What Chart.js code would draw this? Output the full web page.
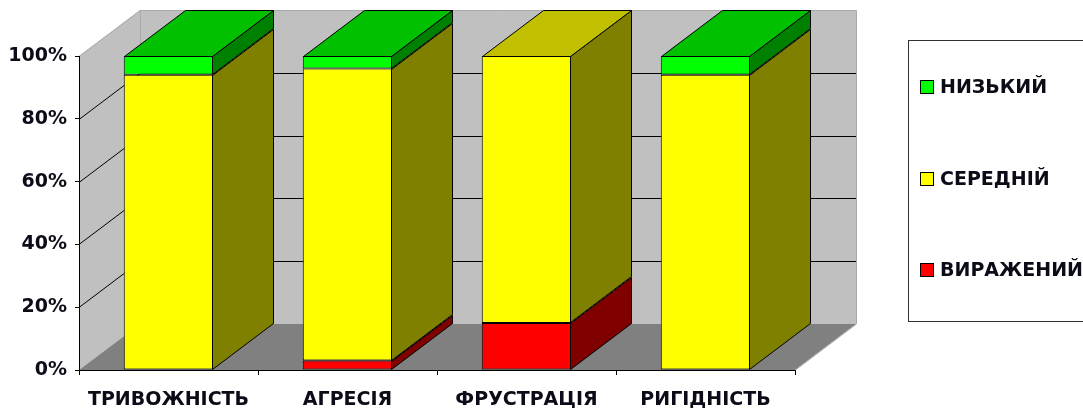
<!DOCTYPE html>
<html>
<head>
<meta charset="utf-8">
<script src="https://cdn.jsdelivr.net/npm/chart.js@4/dist/chart.umd.min.js"></script>
<style>
  html, body { margin: 0; padding: 0; background: #ffffff; overflow: hidden; }
  canvas { display: block; }
</style>
</head>
<body>
<canvas id="chart" width="1083" height="412"></canvas>
<script>
// Categories and levels (percent of respondents, stacked to 100%)
const categories = ['ТРИВОЖНІСТЬ', 'АГРЕСІЯ', 'ФРУСТРАЦІЯ', 'РИГІДНІСТЬ'];
const seriesNames = ['ВИРАЖЕНИЙ', 'СЕРЕДНІЙ', 'НИЗЬКИЙ'];
const vyrazhenyi = [0, 3, 15, 0];
const serednii = [94, 93, 85, 94];
const nyzkyi = [6, 4, 0, 6];
const yTickValues = [0, 20, 40, 60, 80, 100];

// Face colours: front, side (shaded) and top of each series
const frontColors = ['#FF0000', '#FFFF00', '#00FF00'];
const sideColors = ['#800000', '#808000', '#008000'];
const topColors = ['#C00000', '#C0C000', '#00C000'];

const FONT = { family: '"DejaVu Sans", Verdana, sans-serif', weight: 'bold', size: 19 };
const TEXT = '#0c0c18';

// Depth of the 3D box (pixels to the right and upwards)
const DX = 61;
const DY = -46;

function poly(ctx, pts, fill, stroke) {
  ctx.beginPath();
  ctx.moveTo(pts[0][0], pts[0][1]);
  for (let i = 1; i < pts.length; i++) ctx.lineTo(pts[i][0], pts[i][1]);
  ctx.closePath();
  if (fill) { ctx.fillStyle = fill; ctx.fill(); }
  if (stroke) { ctx.strokeStyle = stroke; ctx.lineWidth = 1; ctx.stroke(); }
}

// Walls, floor and depth gridlines behind everything
const walls3d = {
  id: 'walls3d',
  beforeDraw(chart) {
    const { ctx, chartArea: a } = chart;
    const ys = chart.scales.y;
    const L = a.left, R = a.right, T = a.top, B = a.bottom;
    ctx.save();
    // left side wall
    poly(ctx, [[L, T], [L + DX, T + DY], [L + DX, B + DY], [L, B]], '#C0C0C0');
    // back wall
    poly(ctx, [[L + DX, T + DY], [R + DX, T + DY], [R + DX, B + DY], [L + DX, B + DY]], '#C0C0C0');
    // floor
    poly(ctx, [[L, B], [L + DX, B + DY], [R + DX, B + DY], [R, B]], '#808080');

    // gridlines across side and back walls
    ctx.lineWidth = 1;
    yTickValues.forEach(v => {
      if (v === 0 || v === 100) return;
      const y = Math.round(ys.getPixelForValue(v)) + 0.5;
      ctx.strokeStyle = '#000000';
      ctx.beginPath();
      ctx.moveTo(L, y);
      ctx.lineTo(L + DX, y + DY);
      ctx.lineTo(R + DX, y + DY);
      ctx.stroke();
    });

    // wall outlines
    ctx.strokeStyle = '#A8A8A8';
    ctx.beginPath();
    ctx.moveTo(L, T + 0.5);
    ctx.lineTo(L + DX + 0.5, T + DY + 0.5);
    ctx.lineTo(R + DX + 0.5, T + DY + 0.5);
    ctx.lineTo(R + DX + 0.5, B + DY);
    ctx.lineTo(R + 0.5, B);
    ctx.moveTo(L + DX + 0.5, T + DY + 0.5);
    ctx.lineTo(L + DX + 0.5, B + DY);
    ctx.stroke();
    ctx.restore();
  }
};

// Side and top faces for every stacked segment
const bars3d = {
  id: 'bars3d',
  afterDatasetsDraw(chart) {
    const { ctx } = chart;
    const n = chart.data.labels.length;
    ctx.save();
    ctx.lineJoin = 'miter';
    for (let i = 0; i < n; i++) {
      let topSeg = null;
      chart.data.datasets.forEach((ds, d) => {
        const val = ds.data[i];
        if (!val) return;
        const el = chart.getDatasetMeta(d).data[i];
        const p = el.getProps(['x', 'y', 'base', 'width'], true);
        const xL = Math.round(p.x - p.width / 2) + 0.5;
        const xR = Math.round(p.x + p.width / 2) - 0.5;
        const yT = Math.round(Math.min(p.y, p.base)) + 0.5;
        const yB = Math.round(Math.max(p.y, p.base)) - 0.5;
        poly(ctx, [[xR, yT], [xR + DX, yT + DY], [xR + DX, yB + DY], [xR, yB]], sideColors[d], '#000000');
        topSeg = { d, xL, xR, yT };
      });
      if (topSeg) {
        const { d, xL, xR, yT } = topSeg;
        poly(ctx, [[xL, yT], [xL + DX, yT + DY], [xR + DX, yT + DY], [xR, yT]], topColors[d], '#000000');
      }
    }
    ctx.restore();
  }
};

// Boxed legend on the right, highest level first
const boxLegend = {
  id: 'boxLegend',
  afterDraw(chart) {
    const { ctx } = chart;
    ctx.save();
    ctx.strokeStyle = '#303030';
    ctx.lineWidth = 1;
    ctx.strokeRect(908.5, 40.5, 200, 281);
    const order = chart.data.datasets.map((_, d) => d).reverse();
    const rowY = [87, 179, 270];
    ctx.font = `${FONT.weight} ${FONT.size}px ${FONT.family}`;
    ctx.textBaseline = 'middle';
    ctx.textAlign = 'left';
    order.forEach((d, k) => {
      const cy = rowY[k];
      ctx.fillStyle = frontColors[d];
      ctx.fillRect(920.5, cy - 6.5, 13, 13);
      ctx.strokeStyle = '#000000';
      ctx.strokeRect(920.5, cy - 6.5, 13, 13);
      ctx.fillStyle = TEXT;
      ctx.fillText(chart.data.datasets[d].label, 940, cy + 1);
    });
    ctx.restore();
  }
};

const seriesValues = [vyrazhenyi, serednii, nyzkyi];

new Chart(document.getElementById('chart'), {
  type: 'bar',
  data: {
    labels: categories,
    datasets: seriesNames.map((name, d) => ({
      label: name,
      data: seriesValues[d],
      backgroundColor: frontColors[d],
      borderColor: '#000000',
      borderWidth: ctx => (ctx.raw ? 1 : 0),
      borderSkipped: false,
      categoryPercentage: 0.5,
      barPercentage: 1.0
    }))
  },
  options: {
    responsive: false,
    animation: false,
    devicePixelRatio: 1,
    layout: { padding: { left: 0, top: 56, right: 288, bottom: 0 } },
    plugins: { legend: { display: false }, tooltip: { enabled: false } },
    scales: {
      x: {
        stacked: true,
        grid: { offset: true, drawOnChartArea: false, drawTicks: true, tickLength: 5, color: '#000000' },
        border: { display: true, color: '#000000', width: 1 },
        ticks: { font: FONT, color: TEXT, padding: 14, autoSkip: false, maxRotation: 0 },
        afterFit(s) { s.height = 42; }
      },
      y: {
        stacked: true,
        min: 0,
        max: 100,
        afterBuildTicks(s) { s.ticks = yTickValues.map(v => ({ value: v })); },
        grid: { drawOnChartArea: false, drawTicks: true, tickLength: 4, color: '#000000' },
        border: { display: true, color: '#000000', width: 1 },
        ticks: { font: FONT, color: TEXT, padding: 8, callback: v => v + '%' },
        afterFit(s) { s.width = 79; }
      }
    }
  },
  plugins: [walls3d, bars3d, boxLegend]
});
</script>
</body>
</html>
